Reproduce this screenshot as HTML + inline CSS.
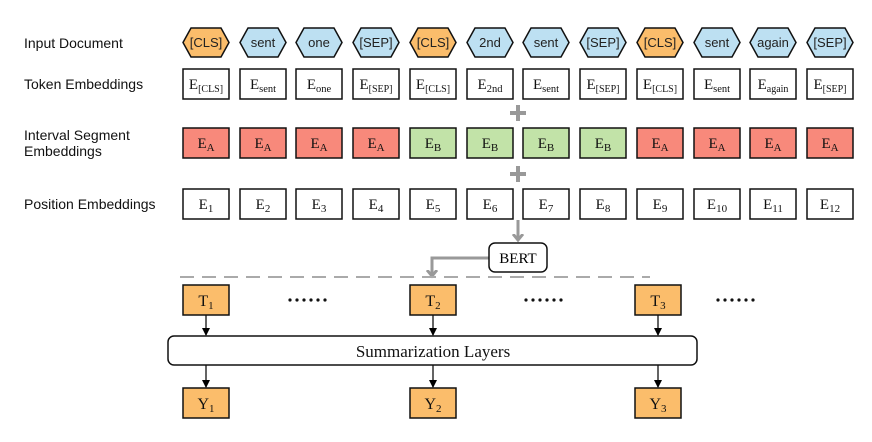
<!DOCTYPE html>
<html><head><style>body{margin:0;background:#fff}</style></head><body>
<svg width="872" height="437" xmlns="http://www.w3.org/2000/svg">
<defs><marker id="a" markerWidth="8" markerHeight="8" refX="7" refY="4" orient="auto" markerUnits="userSpaceOnUse"><path d="M0,0 L8,4 L0,8 Z" fill="#000"/></marker>
<marker id="g" markerWidth="12" markerHeight="12" refX="6" refY="6" orient="auto" markerUnits="userSpaceOnUse"><path d="M0,1 L6,6 L0,11" fill="none" stroke="#999" stroke-width="3"/></marker>
<polygon id="hx" points="0,14.5 8,0 38,0 46,14.5 38,29 8,29"/>
</defs>
<g font-family="Liberation Sans, sans-serif" font-size="14" fill="#111">
<text x="24" y="48">Input Document</text>
<text x="24" y="89">Token Embeddings</text>
<text x="24" y="140">Interval Segment</text>
<text x="24" y="156">Embeddings</text>
<text x="24" y="209">Position Embeddings</text>
</g>
<g stroke="#111" stroke-width="1.5">
<use href="#hx" x="183" y="28" fill="#fbbd6b"/><use href="#hx" x="240" y="28" fill="#bde0f2"/><use href="#hx" x="296" y="28" fill="#bde0f2"/><use href="#hx" x="353" y="28" fill="#bde0f2"/><use href="#hx" x="410" y="28" fill="#fbbd6b"/><use href="#hx" x="467" y="28" fill="#bde0f2"/><use href="#hx" x="523" y="28" fill="#bde0f2"/><use href="#hx" x="580" y="28" fill="#bde0f2"/><use href="#hx" x="637" y="28" fill="#fbbd6b"/><use href="#hx" x="694" y="28" fill="#bde0f2"/><use href="#hx" x="750" y="28" fill="#bde0f2"/><use href="#hx" x="807" y="28" fill="#bde0f2"/>
<g fill="#fff">
<rect x="183" y="69" width="46" height="30"/><rect x="240" y="69" width="46" height="30"/><rect x="296" y="69" width="46" height="30"/><rect x="353" y="69" width="46" height="30"/><rect x="410" y="69" width="46" height="30"/><rect x="467" y="69" width="46" height="30"/><rect x="523" y="69" width="46" height="30"/><rect x="580" y="69" width="46" height="30"/><rect x="637" y="69" width="46" height="30"/><rect x="694" y="69" width="46" height="30"/><rect x="750" y="69" width="46" height="30"/><rect x="807" y="69" width="46" height="30"/>
<rect x="183" y="189" width="46" height="30"/><rect x="240" y="189" width="46" height="30"/><rect x="296" y="189" width="46" height="30"/><rect x="353" y="189" width="46" height="30"/><rect x="410" y="189" width="46" height="30"/><rect x="467" y="189" width="46" height="30"/><rect x="523" y="189" width="46" height="30"/><rect x="580" y="189" width="46" height="30"/><rect x="637" y="189" width="46" height="30"/><rect x="694" y="189" width="46" height="30"/><rect x="750" y="189" width="46" height="30"/><rect x="807" y="189" width="46" height="30"/>
</g>
<g fill="#f8897b"><rect x="183" y="128" width="46" height="30"/><rect x="240" y="128" width="46" height="30"/><rect x="296" y="128" width="46" height="30"/><rect x="353" y="128" width="46" height="30"/><rect x="637" y="128" width="46" height="30"/><rect x="694" y="128" width="46" height="30"/><rect x="750" y="128" width="46" height="30"/><rect x="807" y="128" width="46" height="30"/></g>
<g fill="#c2e3a8"><rect x="410" y="128" width="46" height="30"/><rect x="467" y="128" width="46" height="30"/><rect x="523" y="128" width="46" height="30"/><rect x="580" y="128" width="46" height="30"/></g>
</g>
<g font-family="Liberation Sans, sans-serif" font-size="13" fill="#222" text-anchor="middle">
<text x="206" y="47">[CLS]</text><text x="263" y="47">sent</text><text x="319" y="47">one</text><text x="376" y="47">[SEP]</text><text x="433" y="47">[CLS]</text><text x="490" y="47">2nd</text><text x="546" y="47">sent</text><text x="603" y="47">[SEP]</text><text x="660" y="47">[CLS]</text><text x="717" y="47">sent</text><text x="773" y="47">again</text><text x="830" y="47">[SEP]</text>
</g>
<g font-family="Liberation Serif, serif" font-size="15" fill="#111" text-anchor="middle">
<text x="206" y="89">E<tspan font-size="10" dy="3">[CLS]</tspan></text><text x="263" y="89">E<tspan font-size="10.5" dy="3">sent</tspan></text><text x="319" y="89">E<tspan font-size="10.5" dy="3">one</tspan></text><text x="376" y="89">E<tspan font-size="10" dy="3">[SEP]</tspan></text><text x="433" y="89">E<tspan font-size="10" dy="3">[CLS]</tspan></text><text x="490" y="89">E<tspan font-size="10.5" dy="3">2nd</tspan></text><text x="546" y="89">E<tspan font-size="10.5" dy="3">sent</tspan></text><text x="603" y="89">E<tspan font-size="10" dy="3">[SEP]</tspan></text><text x="660" y="89">E<tspan font-size="10" dy="3">[CLS]</tspan></text><text x="717" y="89">E<tspan font-size="10.5" dy="3">sent</tspan></text><text x="773" y="89">E<tspan font-size="10" dy="3">again</tspan></text><text x="830" y="89">E<tspan font-size="10" dy="3">[SEP]</tspan></text>
<text x="206" y="148">E<tspan font-size="11" dy="3">A</tspan></text><text x="263" y="148">E<tspan font-size="11" dy="3">A</tspan></text><text x="319" y="148">E<tspan font-size="11" dy="3">A</tspan></text><text x="376" y="148">E<tspan font-size="11" dy="3">A</tspan></text><text x="433" y="148">E<tspan font-size="11" dy="3">B</tspan></text><text x="490" y="148">E<tspan font-size="11" dy="3">B</tspan></text><text x="546" y="148">E<tspan font-size="11" dy="3">B</tspan></text><text x="603" y="148">E<tspan font-size="11" dy="3">B</tspan></text><text x="660" y="148">E<tspan font-size="11" dy="3">A</tspan></text><text x="717" y="148">E<tspan font-size="11" dy="3">A</tspan></text><text x="773" y="148">E<tspan font-size="11" dy="3">A</tspan></text><text x="830" y="148">E<tspan font-size="11" dy="3">A</tspan></text>
<text x="206" y="209">E<tspan font-size="11" dy="3">1</tspan></text><text x="263" y="209">E<tspan font-size="11" dy="3">2</tspan></text><text x="319" y="209">E<tspan font-size="11" dy="3">3</tspan></text><text x="376" y="209">E<tspan font-size="11" dy="3">4</tspan></text><text x="433" y="209">E<tspan font-size="11" dy="3">5</tspan></text><text x="490" y="209">E<tspan font-size="11" dy="3">6</tspan></text><text x="546" y="209">E<tspan font-size="11" dy="3">7</tspan></text><text x="603" y="209">E<tspan font-size="11" dy="3">8</tspan></text><text x="660" y="209">E<tspan font-size="11" dy="3">9</tspan></text><text x="717" y="209">E<tspan font-size="11" dy="3">10</tspan></text><text x="773" y="209">E<tspan font-size="11" dy="3">11</tspan></text><text x="830" y="209">E<tspan font-size="11" dy="3">12</tspan></text>
</g>
<g stroke="#999" stroke-width="4">
<line x1="510" y1="113" x2="526" y2="113"/><line x1="518" y1="105" x2="518" y2="121"/>
<line x1="510" y1="174" x2="526" y2="174"/><line x1="518" y1="166" x2="518" y2="182"/>
</g>
<g stroke="#999" stroke-width="3" fill="none">
<line x1="518" y1="220" x2="518" y2="240" marker-end="url(#g)"/>
<polyline points="489,258 432,258 432,276" marker-end="url(#g)"/>
</g>
<rect x="489" y="243" width="58" height="29" rx="6" fill="#fff" stroke="#111" stroke-width="1.5"/>
<text x="518" y="263" text-anchor="middle" font-family="Liberation Serif, serif" font-size="15">BERT</text>
<line x1="180" y1="277" x2="650" y2="277" stroke="#aaa" stroke-width="2" stroke-dasharray="14,8"/>
<g font-family="Liberation Serif, serif" font-size="16" text-anchor="middle" fill="#111">
<rect x="183" y="285" width="46" height="30" fill="#fbbd6b" stroke="#111" stroke-width="1.5"/><text x="206" y="306">T<tspan font-size="11" dy="3">1</tspan></text>
<rect x="410" y="285" width="46" height="30" fill="#fbbd6b" stroke="#111" stroke-width="1.5"/><text x="433" y="306">T<tspan font-size="11" dy="3">2</tspan></text>
<rect x="635" y="285" width="46" height="30" fill="#fbbd6b" stroke="#111" stroke-width="1.5"/><text x="658" y="306">T<tspan font-size="11" dy="3">3</tspan></text>
<rect x="183" y="388" width="46" height="30" fill="#fbbd6b" stroke="#111" stroke-width="1.5"/><text x="206" y="409">Y<tspan font-size="11" dy="3">1</tspan></text>
<rect x="410" y="388" width="46" height="30" fill="#fbbd6b" stroke="#111" stroke-width="1.5"/><text x="433" y="409">Y<tspan font-size="11" dy="3">2</tspan></text>
<rect x="635" y="388" width="46" height="30" fill="#fbbd6b" stroke="#111" stroke-width="1.5"/><text x="658" y="409">Y<tspan font-size="11" dy="3">3</tspan></text>
<rect x="168" y="336" width="529" height="29" rx="6" fill="#fff" stroke="#111" stroke-width="1.5"/>
<text x="433" y="357" font-size="17">Summarization Layers</text>
</g>
<g fill="#111">
<circle cx="290" cy="300" r="1.6"/><circle cx="297" cy="300" r="1.6"/><circle cx="304" cy="300" r="1.6"/><circle cx="311" cy="300" r="1.6"/><circle cx="318" cy="300" r="1.6"/><circle cx="325" cy="300" r="1.6"/>
<circle cx="526" cy="300" r="1.6"/><circle cx="533" cy="300" r="1.6"/><circle cx="540" cy="300" r="1.6"/><circle cx="547" cy="300" r="1.6"/><circle cx="554" cy="300" r="1.6"/><circle cx="561" cy="300" r="1.6"/>
<circle cx="718" cy="300" r="1.6"/><circle cx="725" cy="300" r="1.6"/><circle cx="732" cy="300" r="1.6"/><circle cx="739" cy="300" r="1.6"/><circle cx="746" cy="300" r="1.6"/><circle cx="753" cy="300" r="1.6"/>
</g>
<g stroke="#111" stroke-width="1.3">
<line x1="206" y1="315" x2="206" y2="335" marker-end="url(#a)"/>
<line x1="433" y1="315" x2="433" y2="335" marker-end="url(#a)"/>
<line x1="658" y1="315" x2="658" y2="335" marker-end="url(#a)"/>
<line x1="206" y1="365" x2="206" y2="387" marker-end="url(#a)"/>
<line x1="433" y1="365" x2="433" y2="387" marker-end="url(#a)"/>
<line x1="658" y1="365" x2="658" y2="387" marker-end="url(#a)"/>
</g>
</svg>
</body></html>
